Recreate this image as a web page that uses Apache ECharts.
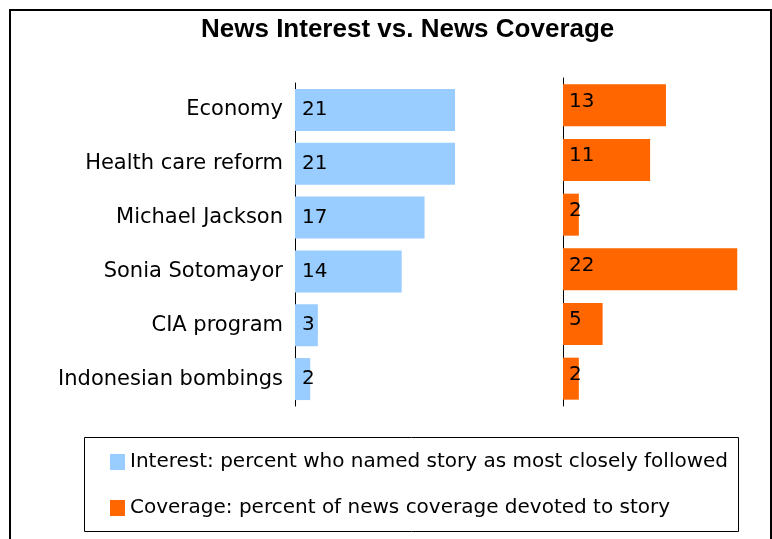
<!DOCTYPE html>
<html>
<head>
<meta charset="utf-8">
<script src="https://cdn.jsdelivr.net/npm/echarts@6/dist/echarts.min.js"></script>
<style>
html,body{margin:0;padding:0;background:#fff;}
#chart{width:772px;height:539px;}
</style>
</head>
<body>
<div id="chart"></div>
<script>
const categories = ['Economy', 'Health care reform', 'Michael Jackson', 'Sonia Sotomayor', 'CIA program', 'Indonesian bombings'];
const interest = [21, 21, 17, 14, 3, 2];
const coverage = [13, 11, 2, 22, 5, 2];
const titleText = 'News Interest vs. News Coverage';
const interestName = 'Interest: percent who named story as most closely followed';
const coverageName = 'Coverage: percent of news coverage devoted to story';

const FONT = 'DejaVu Sans';
const chart = echarts.init(document.getElementById('chart'), null, {renderer: 'canvas'});

const option = {
  backgroundColor: '#fff',
  animation: false,
  title: {
    text: titleText,
    left: 196,
    top: 12,
    textStyle: {fontFamily: 'Liberation Sans', fontWeight: 'bold', fontSize: 26, color: '#000'}
  },
  graphic: [
    {type: 'rect', shape: {x: 10, y: 10, width: 761, height: 540}, style: {fill: 'none', stroke: '#000', lineWidth: 2}, z: 100},
    {type: 'rect', shape: {x: 84.5, y: 437.5, width: 654, height: 94}, style: {fill: 'none', stroke: '#000', lineWidth: 1}, z: 100}
  ],
  legend: {
    orient: 'vertical',
    left: 110,
    top: 452,
    padding: 0,
    itemWidth: 15,
    itemHeight: 16,
    itemGap: 26,
    icon: 'rect',
    data: [interestName, coverageName],
    textStyle: {fontFamily: FONT, fontSize: 20, color: '#000', lineHeight: 20}
  },
  grid: [
    {left: 295, top: 83, width: 190.5, height: 323},
    {left: 563, top: 78, width: 198, height: 328}
  ],
  xAxis: [
    {gridIndex: 0, type: 'value', min: 0, max: 25, show: false},
    {gridIndex: 1, type: 'value', min: 0, max: 25, show: false}
  ],
  yAxis: [
    {
      gridIndex: 0, type: 'category', data: categories, inverse: true,
      axisLine: {show: true, lineStyle: {color: '#000', width: 1}},
      axisTick: {show: false},
      splitLine: {show: false},
      axisLabel: {fontFamily: FONT, fontSize: 21, color: '#000', margin: 12}
    },
    {
      gridIndex: 1, type: 'category', data: categories, inverse: true,
      axisLine: {show: true, lineStyle: {color: '#000', width: 1}},
      axisTick: {show: false},
      splitLine: {show: false},
      axisLabel: {show: false}
    }
  ],
  series: [
    {
      name: interestName, type: 'bar', xAxisIndex: 0, yAxisIndex: 0,
      data: interest, barWidth: 42,
      itemStyle: {color: '#99CCFF'},
      label: {show: true, position: 'insideLeft', distance: 7, fontFamily: FONT, fontSize: 20, color: '#000'}
    },
    {
      name: coverageName, type: 'bar', xAxisIndex: 1, yAxisIndex: 1,
      data: coverage, barWidth: 42,
      itemStyle: {color: '#FF6600'},
      label: {show: true, position: 'insideLeft', distance: 6, offset: [0, -4], fontFamily: FONT, fontSize: 20, color: '#000'}
    }
  ]
};
chart.setOption(option);
</script>
</body>
</html>
